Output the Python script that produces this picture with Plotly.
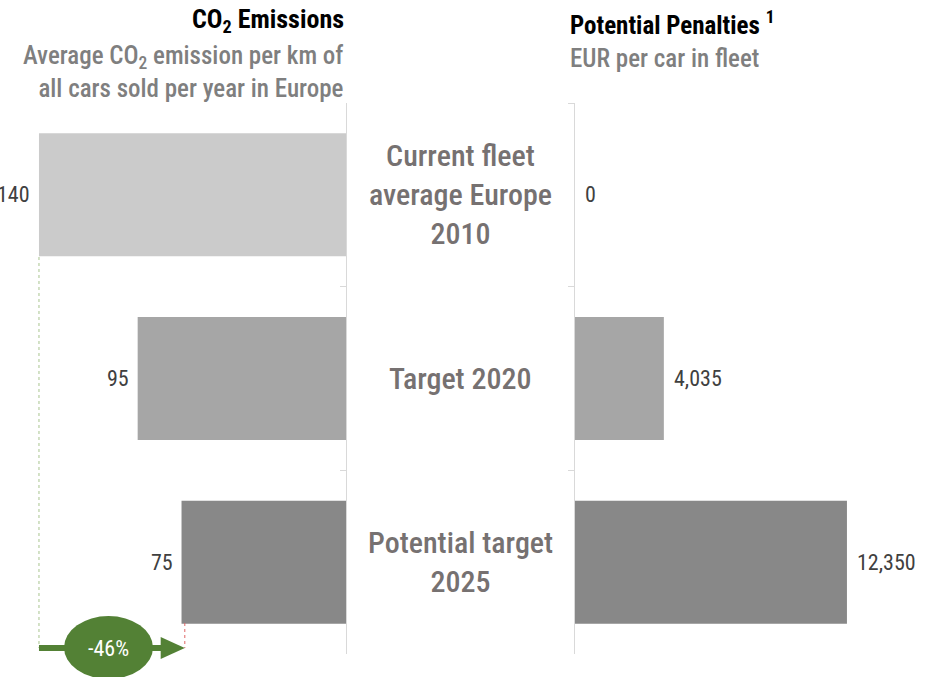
import plotly.graph_objects as go

# Scenario rows, top to bottom
categories = ["Current fleet<br>average Europe<br>2010", "Target 2020", "Potential target<br>2025"]
co2_values = [140, 95, 75]            # g CO2 per km
penalty_values = [0, 4035, 12350]     # EUR per car in fleet
bar_colors = ["#cbcbcb", "#a6a6a6", "#888888"]

W, H = 935, 677
FONT = "Roboto Condensed, Liberation Sans Narrow, Roboto, sans-serif"
GRAY_TXT = "#767171"
VAL_TXT = "#404040"
GREEN = "#538135"

fig = go.Figure()

fig.add_trace(go.Bar(
    x=co2_values, y=categories, orientation="h",
    marker=dict(color=bar_colors, line=dict(width=0)),
    xaxis="x", yaxis="y", showlegend=False, hoverinfo="x",
))
fig.add_trace(go.Bar(
    x=penalty_values, y=categories, orientation="h",
    marker=dict(color=bar_colors, line=dict(width=0)),
    xaxis="x2", yaxis="y2", showlegend=False, hoverinfo="x",
))

y_dom = [1 - 654 / H, 1 - 103 / H]
left_end = 346 / W
right_start = 575 / W

axis_common = dict(
    type="category", categoryorder="array", categoryarray=categories,
    range=[2.5, -0.5], showticklabels=False, showline=True,
    linecolor="#d9d9d9", linewidth=1, tickson="boundaries",
    ticklen=6, tickcolor="#d9d9d9", showgrid=False, zeroline=False,
    domain=y_dom, fixedrange=True,
)

fig.update_layout(
    width=W, height=H,
    margin=dict(l=0, r=0, t=0, b=0),
    paper_bgcolor="white", plot_bgcolor="white",
    bargap=0.33,
    font=dict(family=FONT, color=VAL_TXT),
    xaxis=dict(domain=[0, left_end], range=[346 / 2.193, 0], visible=False, fixedrange=True),
    yaxis=dict(anchor="x", side="right", ticks="inside", **axis_common),
    xaxis2=dict(domain=[right_start, 1], range=[0, 360 / 0.02202], visible=False, fixedrange=True),
    yaxis2=dict(anchor="x2", side="left", ticks="outside", **axis_common),
)

ann = []
# Value labels beside bars
for cat, v in zip(categories, co2_values):
    ann.append(dict(x=v, y=cat, xref="x", yref="y", text=f"{v:,}", showarrow=False,
                    xanchor="right", yanchor="middle", xshift=-7,
                    font=dict(size=22, color=VAL_TXT)))
for cat, v in zip(categories, penalty_values):
    ann.append(dict(x=v, y=cat, xref="x2", yref="y2", text=f"{v:,}", showarrow=False,
                    xanchor="left", yanchor="middle", xshift=8,
                    font=dict(size=22, color=VAL_TXT)))

# Row names in the middle column
for cat in categories:
    ann.append(dict(x=460 / W, y=cat, xref="paper", yref="y", text=cat, showarrow=False,
                    xanchor="center", yanchor="middle", align="center",
                    font=dict(size=30, color=GRAY_TXT, weight=500)))

# Panel headings
ann += [
    dict(x=left_end, y=1 - 21 / H, xref="paper", yref="paper", xanchor="right", yanchor="middle",
         text="<b>CO<sub>2</sub> Emissions</b>", showarrow=False, font=dict(size=26, color="black")),
    dict(x=left_end, y=1 - 72 / H, xref="paper", yref="paper", xanchor="right", yanchor="middle",
         align="right", text="Average CO<sub>2</sub> emission per km of<br>all cars sold per year in Europe",
         showarrow=False, font=dict(size=25, color="#7f7f7f", weight=500)),
    dict(x=568 / W, y=1 - 23 / H, xref="paper", yref="paper", xanchor="left", yanchor="middle",
         text="<b>Potential Penalties <sup>1</sup></b>", showarrow=False, font=dict(size=25, color="black")),
    dict(x=568 / W, y=1 - 58 / H, xref="paper", yref="paper", xanchor="left", yanchor="middle",
         text="EUR per car in fleet", showarrow=False, font=dict(size=25, color="#7f7f7f", weight=500)),
]

# Reduction arrow between 2010 and 2025 levels
start_v, end_v = co2_values[0], co2_values[-1]
pct = round((end_v - start_v) / start_v * 100)
arrow_y = 1 - 648 / H
shapes = [
    dict(type="line", xref="x", yref="paper", x0=start_v, x1=start_v,
         y0=1 - 257 / H, y1=arrow_y, line=dict(color="#a9c48f", width=1, dash="dot")),
    dict(type="line", xref="x", yref="paper", x0=end_v - 1.5, x1=end_v - 1.5,
         y0=1 - 623 / H, y1=arrow_y, line=dict(color="#e06666", width=1, dash="dot")),
    dict(type="line", xref="x", yref="paper", x0=start_v, x1=end_v + 8,
         y0=arrow_y, y1=arrow_y, line=dict(color=GREEN, width=6)),
    dict(type="path", xref="x", yref="paper",
         path=f"M {end_v + 9.5},{1 - 637 / H} L {end_v - 1.5},{arrow_y} L {end_v + 9.5},{1 - 659 / H} Z",
         fillcolor=GREEN, line=dict(width=0)),
    dict(type="circle", xref="paper", yref="paper", x0=64 / W, x1=153 / W,
         y0=1 - 679 / H, y1=1 - 616 / H, fillcolor=GREEN, line=dict(width=0)),
]
ann.append(dict(x=108 / W, y=arrow_y, xref="paper", yref="paper", text=f"{pct}%",
                xanchor="center", yanchor="middle", showarrow=False,
                font=dict(size=22, color="white")))

fig.update_layout(annotations=ann, shapes=shapes)
fig.write_html("out.html")
